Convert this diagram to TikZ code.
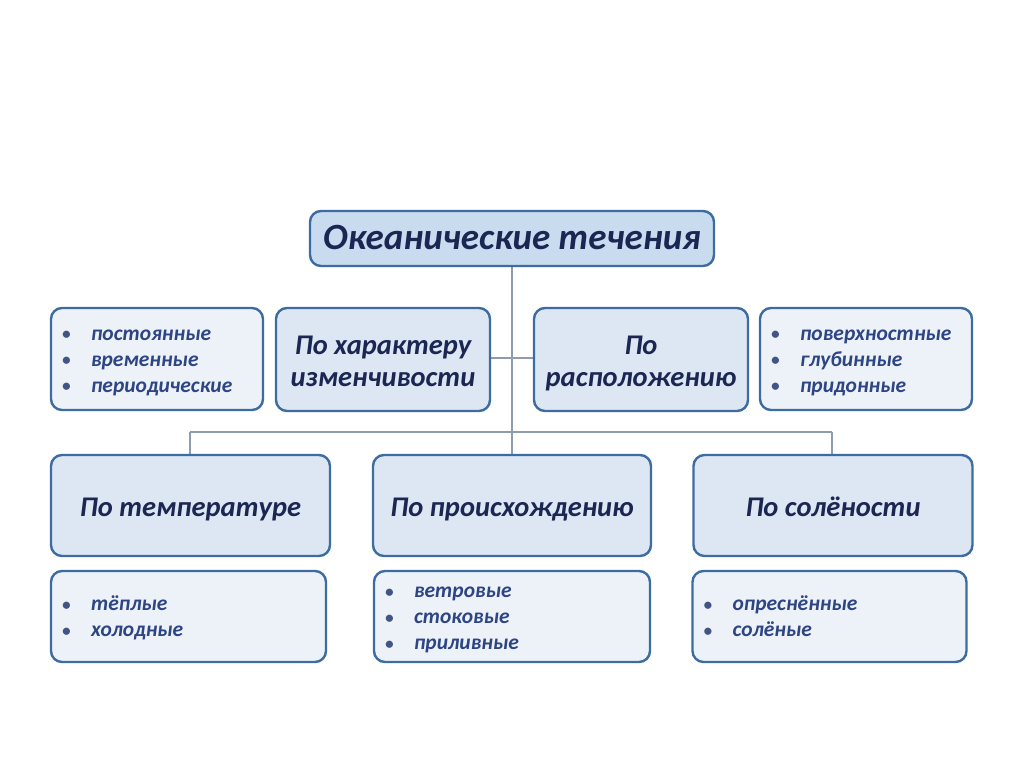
\documentclass[tikz,border=0pt]{standalone}
\usepackage{fontspec}
\setmainfont{Carlito}
\definecolor{bord}{HTML}{3D6CA3}
\definecolor{fillcat}{HTML}{DCE7F3}
\definecolor{filltitle}{HTML}{C9DBEE}
\definecolor{filllist}{HTML}{EDF2F9}
\definecolor{txtdark}{HTML}{1B2652}
\definecolor{txtlist}{HTML}{2E4584}
\definecolor{conn}{HTML}{8E9CAD}
\tikzset{
  box/.style={draw=bord, line width=2.4pt, rounded corners=11pt, inner sep=0pt},
  titlebox/.style={box, fill=filltitle, font=\bfseries\itshape\fontsize{37}{42}\selectfont, text=txtdark},
  catbox/.style={box, fill=fillcat, font=\bfseries\itshape\fontsize{28.5}{32}\selectfont, text=txtdark, align=center},
  listbox/.style={box, fill=filllist, font=\bfseries\itshape\fontsize{21.5}{26}\selectfont, text=txtlist, align=left, inner xsep=10pt},
  connector/.style={draw=conn, line width=1.1pt}
}
% bullet item; first item gets a taller strut to push the block down slightly
\newcommand{\bulitem}[1]{\makebox[29pt][l]{\raisebox{0.5pt}{\textcolor{txtlist!75!gray}{\fontsize{17}{20}\selectfont\textbullet}}}#1}
\newcommand{\bulfirst}[1]{\rule[-7.8pt]{0pt}{30.4pt}\bulitem{#1}}
\newcommand{\bul}[1]{\strut\bulitem{#1}}
\newcommand{\clfirst}[1]{\rule[-9.6pt]{0pt}{40.4pt}#1}
\newcommand{\cl}[1]{\strut#1}
\begin{document}
\begin{tikzpicture}[x=1pt,y=-1pt]
\useasboundingbox (0,0) rectangle (1024,767);
\fill[white] (0,0) rectangle (1024,767);
% connectors (drawn first, behind boxes)
\coordinate (busC) at (512,432);
\coordinate (busL) at (190,432);
\coordinate (busR) at (832,432);
\coordinate (titleS) at (512,266);
\draw[connector] (titleS) -- (busC);
\draw[connector] (busL) -- (busR);
\coordinate (tempN) at (190,455);
\coordinate (origN) at (512,455);
\coordinate (salN) at (832,455);
\draw[connector] (busL) -- (tempN);
\draw[connector] (busC) -- (origN);
\draw[connector] (busR) -- (salN);
\coordinate (charE) at (490,358);
\coordinate (posW) at (534,358);
\draw[connector] (charE) -- (posW);

\node[titlebox, minimum width=404pt, minimum height=55pt] (title) at (512,238.5) {\rule[-12.6pt]{0pt}{48pt}Океанические течения};

\node[catbox, minimum width=214pt, minimum height=103pt] (char) at (383,359.5) {\clfirst{По характеру}\\\cl{изменчивости}};
\node[catbox, minimum width=214pt, minimum height=103pt] (pos) at (641,359.5) {\clfirst{По}\\\cl{расположению}};

\node[listbox, minimum width=212pt, minimum height=102pt, text width=190pt] (listL) at (157,359)
  {\bulfirst{постоянные}\\\bul{временные}\\\bul{периодические}};
\node[listbox, minimum width=212pt, minimum height=102pt, text width=190pt] (listR) at (866,359)
  {\bulfirst{поверхностные}\\\bul{глубинные}\\\bul{придонные}};

\node[catbox, minimum width=279pt, minimum height=101pt] (temp) at (190.5,505.5) {\clfirst{По температуре}};
\node[catbox, minimum width=278pt, minimum height=101pt] (orig) at (512,505.5) {\clfirst{По происхождению}};
\node[catbox, minimum width=279pt, minimum height=101pt] (sal) at (833,505.5) {\clfirst{По солёности}};

\node[listbox, minimum width=275pt, minimum height=91pt, text width=253pt] (tl) at (188.5,616.5)
  {\bulfirst{тёплые}\\\bul{холодные}};
\node[listbox, minimum width=276pt, minimum height=91pt, text width=254pt] (ol) at (512,616.5)
  {\bulfirst{ветровые}\\\bul{стоковые}\\\bul{приливные}};
\node[listbox, minimum width=274pt, minimum height=91pt, text width=252pt] (sl) at (829.5,616.5)
  {\bulfirst{опреснённые}\\\bul{солёные}};
\end{tikzpicture}
\end{document}
